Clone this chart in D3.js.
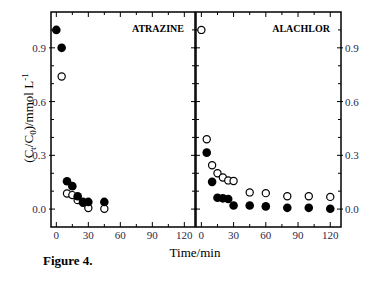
<!DOCTYPE html>
<html><head><meta charset="utf-8">
<script src="https://cdn.jsdelivr.net/npm/d3@7"></script>
<style>body{margin:0;background:#fff}svg{display:block}</style>
</head><body>
<script>
// Data
const atrazineFilledT = [0, 5, 10, 15, 20, 25, 30, 45];
const atrazineFilledV = [1.0, 0.90, 0.155, 0.128, 0.072, 0.04, 0.04, 0.04];
const atrazineOpenT = [5, 10, 15, 20, 25, 30, 45];
const atrazineOpenV = [0.74, 0.087, 0.078, 0.05, 0.035, 0.006, 0.002];
const alachlorFilledT = [5, 10, 15, 20, 25, 30, 45, 60, 80, 100, 120];
const alachlorFilledV = [0.315, 0.152, 0.063, 0.06, 0.056, 0.02, 0.02, 0.015, 0.007, 0.007, 0.002];
const alachlorOpenT = [0, 5, 10, 15, 20, 25, 30, 45, 60, 80, 100, 120];
const alachlorOpenV = [1.0, 0.39, 0.245, 0.20, 0.176, 0.16, 0.157, 0.093, 0.089, 0.072, 0.072, 0.068];
const xTicks = [0, 30, 60, 90, 120];
const yTicks = [0.0, 0.3, 0.6, 0.9];
const panelNames = ["ATRAZINE", "ALACHLOR"];

(function () {
const W = 379, H = 281;
const svg = d3.select("body").append("svg").attr("width", W).attr("height", H);
const font = "'Liberation Serif', 'Times New Roman', serif";
const txtCol = "#2a2a4a";

const yTop = 12, yBot = 227;
const y = d3.scaleLinear().domain([-0.1, 1.1]).range([yBot, yTop]);
const panels = [
  {x0: 51, x1: 195, name: panelNames[0], filled: [atrazineFilledT, atrazineFilledV], open: [atrazineOpenT, atrazineOpenV], side: "left"},
  {x0: 196, x1: 341, name: panelNames[1], filled: [alachlorFilledT, alachlorFilledV], open: [alachlorOpenT, alachlorOpenV], side: "right"}
];
const xMinor = d3.range(0, 130, 15);
const yMinor = d3.range(0, 11).map(i => +(i * 0.1).toFixed(1));

panels.forEach(p => {
  const x = d3.scaleLinear().domain([-5, 130]).range([p.x0, p.x1]);
  const g = svg.append("g");
  g.append("rect").attr("x", p.x0).attr("y", yTop).attr("width", p.x1 - p.x0).attr("height", yBot - yTop)
    .attr("fill", "none").attr("stroke", "#000").attr("stroke-width", 1.5);
  xMinor.forEach(t => {
    const major = xTicks.includes(t);
    const len = major ? 5 : 3;
    g.append("line").attr("x1", x(t)).attr("x2", x(t)).attr("y1", yBot).attr("y2", yBot - len).attr("stroke", "#000").attr("stroke-width", 1);
    g.append("line").attr("x1", x(t)).attr("x2", x(t)).attr("y1", yTop).attr("y2", yTop + len).attr("stroke", "#000").attr("stroke-width", 1);
  });
  yMinor.forEach(v => {
    const major = yTicks.some(t => Math.abs(t - v) < 1e-6);
    const len = major ? 4 : 3;
    const out = major ? 2 : 0;
    g.append("line").attr("x1", p.x0 - out).attr("x2", p.x0 + len).attr("y1", y(v)).attr("y2", y(v)).attr("stroke", "#000").attr("stroke-width", 1);
    g.append("line").attr("x1", p.x1 + out).attr("x2", p.x1 - len).attr("y1", y(v)).attr("y2", y(v)).attr("stroke", "#000").attr("stroke-width", 1);
  });
  g.selectAll(".xl").data(xTicks).enter().append("text")
    .attr("x", d => x(d)).attr("y", 239).attr("text-anchor", "middle")
    .attr("font-family", font).attr("font-size", 11).attr("fill", txtCol).text(d => d);
  g.selectAll(".yl").data(yTicks).enter().append("text")
    .attr("x", p.side === "left" ? p.x0 - 5 : p.x1 + 4)
    .attr("y", d => y(d) + 4)
    .attr("text-anchor", p.side === "left" ? "end" : "start")
    .attr("font-family", font).attr("font-size", 11).attr("fill", txtCol).text(d => d.toFixed(1));
  g.append("text").attr("x", p.x1 - 11).attr("y", 32).attr("text-anchor", "end")
    .attr("font-family", font).attr("font-size", 10).attr("font-weight", "bold").attr("fill", "#000").text(p.name);
  const filled = p.filled[0].map((t, i) => ({t, v: p.filled[1][i]}));
  const open = p.open[0].map((t, i) => ({t, v: p.open[1][i]}));
  g.selectAll(".op").data(open).enter().append("circle")
    .attr("cx", d => x(d.t)).attr("cy", d => y(d.v)).attr("r", 3.6)
    .attr("fill", "#fff").attr("stroke", "#000").attr("stroke-width", 1.2);
  g.selectAll(".fp").data(filled).enter().append("circle")
    .attr("cx", d => x(d.t)).attr("cy", d => y(d.v)).attr("r", 4.3)
    .attr("fill", "#000");
});

svg.append("text").attr("x", 195).attr("y", 257).attr("text-anchor", "middle")
  .attr("font-family", font).attr("font-size", 13).attr("fill", "#000").text("Time/min");
const yl = svg.append("text").attr("transform", "translate(33,118) rotate(-90)")
  .attr("text-anchor", "middle").attr("font-family", font).attr("font-size", 13).attr("fill", "#000");
yl.append("tspan").text("(C");
yl.append("tspan").attr("font-size", 9).attr("dy", 3).text("t");
yl.append("tspan").attr("dy", -3).text("/C");
yl.append("tspan").attr("font-size", 9).attr("dy", 3).text("0");
yl.append("tspan").attr("dy", -3).text(")/mmol L");
yl.append("tspan").attr("font-size", 9).attr("dy", -5).text("-1");

svg.append("text").attr("x", 43).attr("y", 265).attr("font-family", font)
  .attr("font-size", 13).attr("font-weight", "bold").attr("fill", "#000").text("Figure 4.");
})();
</script>
</body></html>
